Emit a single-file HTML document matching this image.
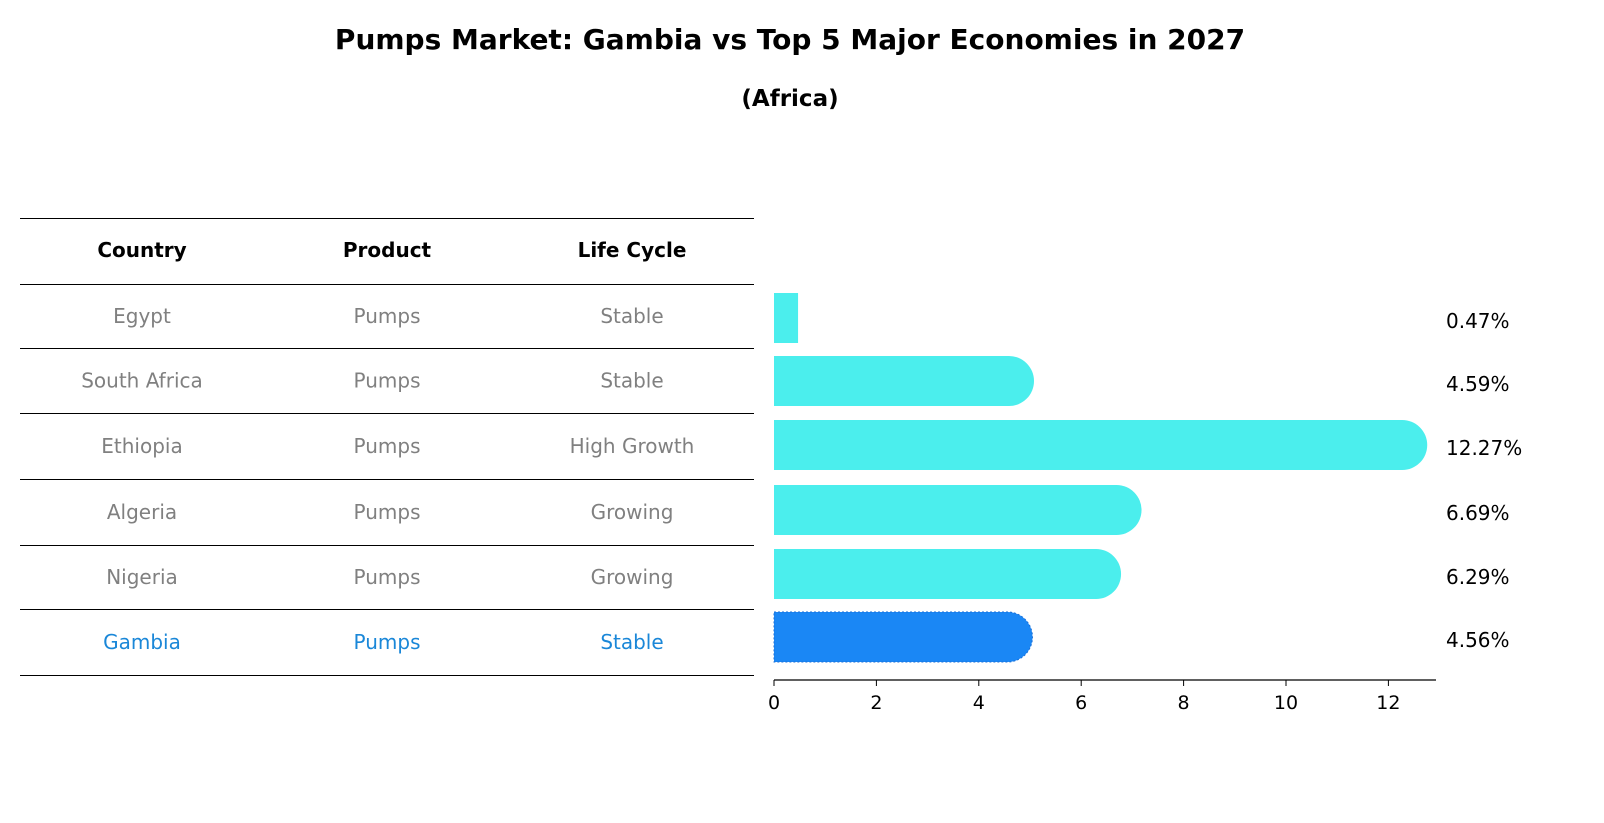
<!DOCTYPE html>
<html><head><meta charset="utf-8"><style>
html,body{margin:0;padding:0;background:#fff;overflow:hidden;width:1604px;height:823px;font-family:"Liberation Sans","DejaVu Sans",sans-serif}
svg{display:block}
</style></head><body>
<svg width="1604" height="823" xmlns="http://www.w3.org/2000/svg" font-family="DejaVu Sans, Liberation Sans, sans-serif">
<text x="790" y="49" text-anchor="middle" font-size="28" font-weight="bold">Pumps Market: Gambia vs Top 5 Major Economies in 2027</text>
<text x="790" y="106" text-anchor="middle" font-size="23" font-weight="bold">(Africa)</text>
<g id="table"></g>
<g id="bars"></g>
</svg>
<script>
const countries=["Egypt","South Africa","Ethiopia","Algeria","Nigeria","Gambia"];
const products=["Pumps","Pumps","Pumps","Pumps","Pumps","Pumps"];
const cycles=["Stable","Stable","High Growth","Growing","Growing","Stable"];
const values=[0.47,4.59,12.27,6.69,6.29,4.56];
const labels=["0.47%","4.59%","12.27%","6.69%","6.29%","4.56%"];
const ticks=[0,2,4,6,8,10,12];
const NS="http://www.w3.org/2000/svg";
function mk(t,a,p){const e=document.createElementNS(NS,t);for(const k in a)e.setAttribute(k,a[k]);p.appendChild(e);return e;}
const tb=document.getElementById('table'),bg=document.getElementById('bars');
const rowY=[218,284,348,413,479,545,609,675];
const colX=[142,387,632];
rowY.forEach((y,i)=>{const l=mk('line',{x1:20,x2:754,y1:y+0.5,y2:y+0.5,stroke:'#000','stroke-width':1},tb);

});
["Country","Product","Life Cycle"].forEach((h,j)=>{const t=mk('text',{x:colX[j],y:257,'text-anchor':'middle','font-size':20,'font-weight':'bold'},tb);t.textContent=h;

});
countries.forEach((c,i)=>{const y=(rowY[i+1]+rowY[i+2])/2+7;const col=i==5?'#1a87d8':'#808080';
[c,products[i],cycles[i]].forEach((v,j)=>{const t=mk('text',{x:colX[j],y:y,'text-anchor':'middle','font-size':20,fill:col},tb);t.textContent=v;

});});
const x0=774,ppu=51.2;
const X=v=>x0+v*ppu;
const centers=[318,381,445,510,574,637];
values.forEach((v,i)=>{const cy=centers[i],h=50,r=25;const w=X(v)-x0;
const col=i==5?'#1a87f5':'#4beeed';let d;
if(w>r)d=`M${x0},${cy-h/2}H${X(v)}A${r},${r} 0 0 1 ${X(v)},${cy+h/2}H${x0}Z`;
else d=`M${x0},${cy-h/2}H${X(v)}V${cy+h/2}H${x0}Z`;
const p=mk('path',{d:d,fill:col},bg);
if(i==5){p.setAttribute('stroke','#1a6fd8');p.setAttribute('stroke-dasharray','2,2');p.setAttribute('stroke-width','1');}


const t=mk('text',{x:1446,y:cy+10,'font-size':20},bg);t.textContent=labels[i];

});
const ax=mk('line',{x1:774,x2:1436,y1:680,y2:680,stroke:'#000','stroke-width':1.2},bg);


ticks.forEach(tv=>{const tl=mk('line',{x1:X(tv),x2:X(tv),y1:680,y2:686,stroke:'#000'},bg);


const t=mk('text',{x:X(tv),y:709,'text-anchor':'middle','font-size':19},bg);t.textContent=tv;

});
</script>
</body></html>
